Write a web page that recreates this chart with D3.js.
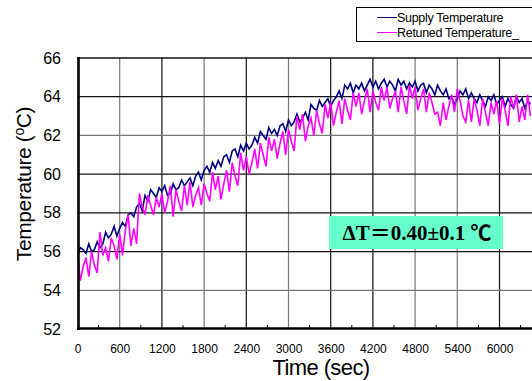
<!DOCTYPE html>
<html>
<head>
<meta charset="utf-8">
<script src="https://cdn.jsdelivr.net/npm/d3@7"></script>
<style>
  body { margin: 0; background: #fff; }
  svg { display: block; }
</style>
</head>
<body>
<div id="chart"></div>
<script>
const sampleStep = 40;

const supplyTemp = [
  55.8, 56.2, 56.1, 55.9, 56.4, 56.0, 56.1, 56.5, 56.2, 56.4,
  57.0, 56.7, 56.9, 57.3, 56.8, 57.2, 57.5, 57.3, 57.9, 58.0,
  57.8, 58.3, 58.5, 58.1, 58.9, 58.6, 59.2, 59.0, 58.8, 59.3,
  59.1, 59.4, 58.9, 59.0, 59.5, 59.2, 59.3, 59.7, 59.4, 59.6,
  59.8, 59.4, 59.9, 60.1, 59.7, 60.2, 60.4, 60.1, 60.6, 60.3,
  60.7, 60.4, 60.9, 61.0, 60.6, 61.2, 61.3, 60.9, 61.5, 61.2,
  61.6, 61.3, 61.5, 61.9, 61.6, 62.2, 62.0, 61.8, 62.4, 62.1,
  62.3, 62.0, 62.5, 62.6, 62.2, 62.8, 62.5, 62.7, 63.1, 62.7,
  62.9, 63.2, 62.8, 63.6, 63.4, 63.3, 63.8, 63.5, 63.7, 63.9,
  63.5, 63.8, 64.0, 64.3, 63.9, 64.6, 64.4, 64.7, 64.2, 64.6,
  64.4, 64.7, 64.3, 64.6, 64.9, 64.5, 64.8, 64.4, 64.7, 64.9,
  64.5, 64.8, 64.6, 64.3, 64.9, 64.6, 64.8, 64.4, 64.7, 64.5,
  64.8, 64.3, 64.6, 64.7, 64.2, 64.6, 64.4, 64.1, 64.6, 64.3,
  64.1, 64.4, 63.9, 64.0, 63.6, 63.9, 64.3, 64.1, 64.4, 63.9,
  64.2, 63.9, 63.7, 64.1, 63.8, 63.5, 64.0, 63.8, 64.1, 63.6,
  63.8, 64.0, 63.5, 63.9, 63.6, 63.4, 64.0, 63.7, 63.9, 63.4,
  63.8, 63.6
];

const returnTemp = [
  55.9, 54.5, 55.2, 55.7, 54.7, 56.0, 55.3, 54.9, 57.0, 55.8,
  56.2, 55.5, 56.7, 56.3, 55.6, 56.9, 55.8, 57.1, 57.9, 56.3,
  57.2, 56.4, 59.0, 58.3, 57.9, 58.9, 58.4, 57.9, 58.8, 58.3,
  59.0, 58.0, 58.6, 59.4, 57.8, 59.2, 58.6, 58.1, 59.4, 58.4,
  59.6, 58.3, 58.9, 59.3, 58.4, 59.5, 59.0, 58.6, 60.1, 59.2,
  59.9, 58.7, 59.5, 60.2, 59.1, 60.6, 59.9, 59.4, 61.1, 60.2,
  60.9, 60.0, 60.6, 61.3, 60.3, 61.6, 61.0, 60.4, 61.9, 61.2,
  61.8, 60.8, 61.6, 62.2, 61.0, 62.3, 61.7, 61.2, 63.0, 62.3,
  63.1, 61.7, 62.5, 62.9, 62.0, 63.3, 62.6, 62.1, 63.6, 62.9,
  63.7, 62.5, 63.2, 63.8, 62.6, 63.9, 63.3, 62.8, 64.2, 63.5,
  64.2, 63.1, 63.8, 64.4, 63.2, 64.3, 63.7, 63.3, 64.5, 63.8,
  64.5, 63.4, 63.9, 64.3, 63.2, 64.5, 63.8, 63.1, 64.6, 63.9,
  64.5, 63.3, 63.9, 64.4, 63.2, 64.2, 63.7, 63.1, 63.2, 62.5,
  63.7, 62.8, 63.5, 64.1, 63.2, 64.4, 63.8, 63.0, 62.7, 63.8,
  62.7, 63.9, 63.3, 62.5, 63.9, 63.2, 62.5, 63.7, 63.1, 63.8,
  62.6, 63.9, 63.3, 62.5, 64.0, 63.4, 64.1, 62.7, 63.5, 62.8,
  64.1, 63.0
];

const xTicks = [0, 600, 1200, 1800, 2400, 3000, 3600, 4200, 4800, 5400, 6000];
const yTicks = [52, 54, 56, 58, 60, 62, 64, 66];
const seriesNames = ["Supply Temperature", "Retuned Temperature_"];
const seriesColors = ["#000080", "#ff00ff"];

const width = 532, height = 381;

const svg = d3.select("#chart").append("svg")
  .attr("width", width)
  .attr("height", height)
  .style("font-family", "'Liberation Sans', Arial, sans-serif");

const x = d3.scaleLinear().domain([0, 6600]).range([77.5, 541.7]);
const y = d3.scaleLinear().domain([52, 66]).range([329, 58]);

// grid lines, some come out grey in the original
const greyX = new Set([600, 1800, 3000, 4800, 5400]);
const greyY = new Set([54, 62]);

svg.append("g").selectAll("line")
  .data(xTicks.slice(1))
  .join("line")
  .attr("x1", d => x(d)).attr("x2", d => x(d))
  .attr("y1", y(66)).attr("y2", y(52))
  .attr("stroke", d => greyX.has(d) ? "#777" : "#111")
  .attr("stroke-width", 1.2);

svg.append("g").selectAll("line")
  .data(yTicks.slice(1))
  .join("line")
  .attr("x1", x(0)).attr("x2", width)
  .attr("y1", d => y(d)).attr("y2", d => y(d))
  .attr("stroke", d => greyY.has(d) ? "#777" : "#111")
  .attr("stroke-width", 1.2);

// minor ticks on the time axis
svg.append("g").selectAll("line")
  .data(xTicks.map(d => d + 300))
  .join("line")
  .attr("x1", d => x(d)).attr("x2", d => x(d))
  .attr("y1", y(52)).attr("y2", y(52) - 4)
  .attr("stroke", "#000");

// lines
svg.append("clipPath").attr("id", "plotclip")
  .append("rect")
  .attr("x", x(0)).attr("y", y(66))
  .attr("width", width - x(0)).attr("height", y(52) - y(66));

const line = d3.line()
  .x((d, i) => x(i * sampleStep))
  .y(d => y(d));

const plot = svg.append("g").attr("clip-path", "url(#plotclip)");

[supplyTemp, returnTemp].forEach((series, k) => {
  plot.append("path")
    .datum(series)
    .attr("fill", "none")
    .attr("stroke", seriesColors[k])
    .attr("stroke-width", 1.6)
    .attr("d", line);
});

// axes
const xAxis = svg.append("g")
  .attr("transform", `translate(0,${y(52)})`)
  .call(d3.axisBottom(x).tickValues(xTicks).tickFormat(d3.format("d"))
    .tickSize(0).tickPadding(15));
xAxis.select(".domain").remove();
xAxis.selectAll("text")
  .attr("font-family", "'Liberation Sans', Arial, sans-serif")
  .attr("font-size", 12)
  .attr("fill", "#000");

const yAxis = svg.append("g")
  .attr("transform", `translate(61,0)`)
  .call(d3.axisLeft(y).tickValues(yTicks).tickSize(0).tickPadding(0));
yAxis.select(".domain").remove();
yAxis.selectAll("text")
  .attr("font-family", "'Liberation Sans', Arial, sans-serif")
  .attr("font-size", 16)
  .attr("fill", "#000");

svg.append("line")
  .attr("x1", x(0)).attr("x2", width)
  .attr("y1", y(66)).attr("y2", y(66))
  .attr("stroke", "#111").attr("stroke-width", 1.2);

svg.append("line")
  .attr("x1", x(0) + 1).attr("x2", x(0) + 1)
  .attr("y1", y(66) - 1).attr("y2", y(52) + 1)
  .attr("stroke", "#000").attr("stroke-width", 2.6);

svg.append("line")
  .attr("x1", x(0)).attr("x2", width)
  .attr("y1", y(52) - 0.5).attr("y2", y(52) - 0.5)
  .attr("stroke", "#000").attr("stroke-width", 2.6);

// axis titles
svg.append("text")
  .attr("x", 321).attr("y", 375)
  .attr("text-anchor", "middle")
  .attr("font-size", 22)
  .attr("letter-spacing", -0.6)
  .text("Time (sec)");

const yTitle = svg.append("text")
  .attr("transform", "translate(31,184) rotate(-90)")
  .attr("text-anchor", "middle")
  .attr("font-size", 21)
  .attr("letter-spacing", -0.4);
yTitle.append("tspan").text("Temperature (");
yTitle.append("tspan").attr("font-size", 14).attr("dy", -7).text("o");
yTitle.append("tspan").attr("dy", 7).text("C)");

// annotation
svg.append("rect")
  .attr("x", 329).attr("y", 216)
  .attr("width", 174).attr("height", 33)
  .attr("fill", "#66ffcc");

svg.append("text")
  .attr("x", 417).attr("y", 240)
  .attr("text-anchor", "middle")
  .attr("font-family", "'Liberation Serif', 'Noto Sans CJK JP', serif")
  .attr("font-weight", "bold")
  .attr("font-size", 21)
  .text("ΔT＝0.40±0.1 ℃");

// legend
const legend = svg.append("g");
legend.append("rect")
  .attr("x", 356.5).attr("y", 7.5)
  .attr("width", 200).attr("height", 34)
  .attr("fill", "#fff")
  .attr("stroke", "#000");

seriesNames.forEach((name, k) => {
  const ly = 17.5 + k * 15;
  legend.append("line")
    .attr("x1", 377).attr("x2", 397)
    .attr("y1", ly).attr("y2", ly)
    .attr("stroke", seriesColors[k]);
  legend.append("text")
    .attr("x", 397).attr("y", ly + 4.5)
    .attr("font-size", 12.5)
    .attr("letter-spacing", -0.3)
    .text(name);
});
</script>
</body>
</html>
